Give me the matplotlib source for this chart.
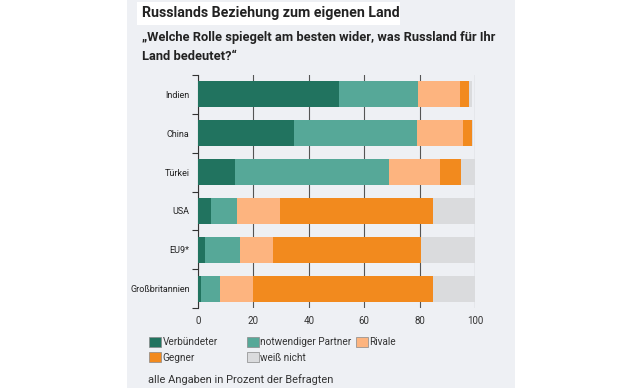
import matplotlib.pyplot as plt
from matplotlib.patches import Rectangle, Patch

plt.rcParams['font.family'] = ['Roboto', 'DejaVu Sans']

# data (percent of respondents)
laender = ['Indien', 'China', 'Türkei', 'USA', 'EU9*', 'Großbritannien']
verbuendeter = [51, 34.5, 13.4, 4.8, 2.4, 1.2]
partner = [28.5, 44.5, 55.4, 9.1, 12.6, 6.7]
rivale = [15, 16.5, 18.6, 15.8, 11.9, 12.1]
gegner = [3.4, 3.3, 7.5, 55.1, 53.5, 64.8]
weiss_nicht = [1, 0.5, 5.1, 15.2, 19.6, 15.2]

serien = [
    ('Verbündeter', verbuendeter, '#21735f'),
    ('notwendiger Partner', partner, '#56a898'),
    ('Rivale', rivale, '#fdb47f'),
    ('Gegner', gegner, '#f28a1e'),
    ('weiß nicht', weiss_nicht, '#dadbdd'),
]
panel = '#eef0f4'

fig = plt.figure(figsize=(6.4, 3.88), dpi=100)
fig.patch.set_facecolor('white')
W, H = 640, 388

# grey panel and white title box
fig.patches.append(Rectangle((127 / W, 0), (515 - 127) / W, 1, transform=fig.transFigure,
                             facecolor=panel, edgecolor='none', zorder=0))
fig.patches.append(Rectangle((137 / W, 1 - 25 / H), (400 - 137) / W, 23 / H, transform=fig.transFigure,
                             facecolor='white', edgecolor='none', zorder=1))

fig.text(142 / W, 1 - 13 / H, 'Russlands Beziehung zum eigenen Land', fontsize=10.2,
         fontweight='bold', color='#222222', va='center', ha='left')
fig.text(142 / W, 1 - 38 / H, '„Welche Rolle spiegelt am besten wider, was Russland für Ihr',
         fontsize=9.3, fontweight='bold', color='#222222', va='center', ha='left')
fig.text(142 / W, 1 - 56 / H, 'Land bedeutet?“', fontsize=9.3, fontweight='bold',
         color='#222222', va='center', ha='left')

ax = fig.add_axes([198 / W, 1 - 308 / H, (475 - 198) / W, (308 - 75) / H])
ax.set_zorder(5)
ax.set_facecolor(panel)

y = list(range(len(laender)))
links = [0] * len(laender)
for name, werte, farbe in serien:
    ax.barh(y, werte, left=links, height=0.67, color=farbe, label=name, zorder=3)
    links = [a + b for a, b in zip(links, werte)]

ax.set_xlim(0, 100)
ax.set_ylim(5.5, -0.5)
ax.set_xticks([0, 20, 40, 60, 80, 100])
ax.set_yticks(y)
ax.set_yticklabels(laender)
ax.set_yticks([i - 0.5 for i in range(len(laender) + 1)], minor=True)
ax.tick_params(axis='y', which='major', length=0, pad=6, labelsize=6.5, labelcolor='#222222')
ax.tick_params(axis='y', which='minor', length=4, width=0.8, color='#333333')
ax.tick_params(axis='x', length=0, pad=6, labelsize=7, labelcolor='#333333')
ax.grid(axis='x', color='#555555', linewidth=0.8, zorder=0)
ax.set_axisbelow(True)
for s in ['top', 'right', 'bottom']:
    ax.spines[s].set_visible(False)
ax.spines['left'].set_color('#333333')
ax.spines['left'].set_linewidth(0.8)

griffe = {n: Patch(facecolor=f, edgecolor='#888888', linewidth=0.5, label=n) for n, _, f in serien}
# three legend columns placed by hand
spalten = [(149, ['Verbündeter', 'Gegner']),
           (247, ['notwendiger Partner', 'weiß nicht']),
           (356, ['Rivale'])]
for x0, namen in spalten:
    leg = fig.legend(handles=[griffe[n] for n in namen], loc='upper left',
                     bbox_to_anchor=(x0 / W, 1 - 337 / H), frameon=False, fontsize=7.2,
                     handlelength=1.15, handleheight=1.15, handletextpad=0.2,
                     labelspacing=0.5, borderaxespad=0, borderpad=0)
    for t in leg.get_texts():
        t.set_color('#333333')

fig.text(148 / W, 1 - 380 / H, 'alle Angaben in Prozent der Befragten', fontsize=7.9,
         color='#333333', va='center', ha='left')

fig.savefig('out.png', dpi=100, facecolor=fig.get_facecolor())
